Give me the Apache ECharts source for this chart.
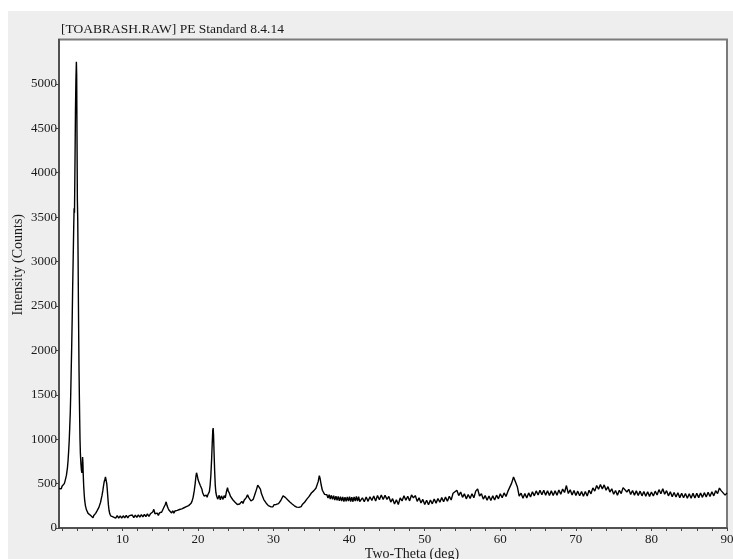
<!DOCTYPE html>
<html>
<head>
<meta charset="utf-8">
<script src="https://cdn.jsdelivr.net/npm/echarts@6/dist/echarts.min.js"></script>
<style>
  html, body { margin: 0; padding: 0; background: #fff; }
  #chart { width: 733px; height: 559px; }
</style>
</head>
<body>
<div id="chart"></div>
<script>
// scan: [two-theta, counts]
var lowAngle = [
  [1.60,445],[1.70,428],[1.80,458],[1.90,440],[2.00,470],[2.10,462],[2.20,490],[2.30,500],[2.40,528],[2.50,545],
  [2.58,592],[2.65,612],[2.72,680],[2.80,760],[2.88,870],[2.95,980],[3.02,1130],[3.10,1320],[3.15,1500],[3.22,1800],
  [3.28,2040],[3.35,2380],[3.41,2720],[3.48,3050],[3.55,3400],[3.60,3600],[3.65,3550],[3.72,4150],[3.78,4700],[3.84,5050],
  [3.90,5250],[3.94,5100],[3.98,4450],[4.03,3700],[4.08,3470],[4.13,3000],[4.17,2530],[4.21,2150],[4.25,1780],[4.30,1450],
  [4.34,1210],[4.38,1000],[4.43,840],[4.50,720],[4.57,650],[4.63,620],[4.68,700],[4.72,800],[4.76,740],[4.80,620],
  [4.87,470],[4.95,360],[5.00,310],[5.10,250],[5.23,205],[5.35,190],[5.45,165],[5.57,165],[5.70,145],[5.80,140],
  [5.90,120],[6.00,136],[6.10,114],[6.20,140],[6.33,136],[6.45,165],[6.55,172],[6.65,196],[6.77,202],[6.88,232],
  [6.99,240],[7.10,290],[7.20,330],[7.30,370],[7.40,420],[7.50,480],[7.58,520],[7.68,550],[7.75,575],[7.80,582],
  [7.86,560],[7.92,500],[7.98,440],[8.05,360],[8.14,260],[8.22,200],[8.32,160],[8.45,136],[8.60,152],[8.75,126]
];

var midAngle = [
  [8.90,138],[9.10,112],[9.30,140],[9.50,112],[9.70,136],[9.90,110],[10.10,138],[10.30,114],[10.50,142],[10.70,114],
  [10.90,140],[11.10,118],[11.30,146],[11.50,118],[11.70,145],[11.90,120],[12.10,148],[12.30,122],[12.50,150],[12.70,125],
  [12.90,153],[13.10,128],[13.30,158],[13.50,132],[13.70,160],[13.90,155],[14.00,180],[14.15,210],[14.30,160],[14.45,150],
  [14.60,168],[14.75,142],[14.90,170],[15.05,152],[15.20,180],[15.35,190],[15.50,236],[15.65,262],[15.78,295],[15.90,252],
  [16.05,220],[16.20,196],[16.35,194],[16.50,170],[16.65,194],[16.80,168],[16.95,192],[17.10,172],[17.25,198],[17.40,180],
  [17.55,208],[17.70,188],[17.85,216],[18.00,198],[18.15,228],[18.30,208],[18.45,240],[18.60,220],[18.75,252],[18.90,245],
  [19.05,275],[19.20,300],[19.35,345],[19.50,420],[19.62,500],[19.72,580],[19.80,622],[19.90,590],[20.00,545],[20.10,522],
  [20.20,500],[20.30,478],[20.40,488],[20.50,440],[20.60,400],[20.70,378],[20.80,360],[20.90,372],[21.00,344],[21.10,370],
  [21.20,346],[21.30,374],[21.40,378],[21.50,410],[21.60,480],[21.70,600],[21.80,780],[21.88,960],[21.95,1100],[22.00,1125],
  [22.05,1050],[22.12,850],[22.20,640],[22.28,480],[22.36,400],[22.45,362]
];

var highAngle = [
  [22.60,325],[22.80,368],[22.95,318],[23.10,362],[23.30,322],[23.45,365],[23.60,338],[23.75,405],[23.90,455],[24.00,415],
  [24.15,392],[24.30,355],[24.45,358],[24.60,318],[24.75,330],[24.90,290],[25.05,305],[25.20,265],[25.35,282],[25.50,270],
  [25.65,262],[25.80,300],[25.95,276],[26.10,312],[26.25,300],[26.40,345],[26.55,375],[26.70,345],[26.85,340],[27.00,304],
  [27.15,318],[27.30,322],[27.45,360],[27.60,378],[27.75,438],[27.90,482],[28.00,495],[28.10,468],[28.25,438],[28.40,385],
  [28.55,366],[28.70,320],[28.85,322],[29.00,282],[29.15,292],[29.30,252],[29.45,262],[29.60,240],[29.75,256],[29.90,238],
  [30.05,262],[30.20,240],[30.35,265],[30.50,248],[30.65,275],[30.80,270],[30.95,310],[31.10,325],[31.25,362],[31.40,372],
  [31.55,345],[31.70,350],[31.85,318],[32.00,326],[32.15,292],[32.30,300],[32.45,270],[32.60,280],[32.75,250],[32.90,262],
  [33.05,235],[33.20,250],[33.35,232],[33.50,248],[33.65,240],[33.80,265],[33.95,260],[34.10,290],[34.25,288],[34.40,325],
  [34.55,330],[34.70,356],[34.85,352],[35.00,394],[35.15,392],[35.30,418],[35.45,412],[35.60,448],[35.75,470],[35.90,522],
  [36.05,590],[36.15,558],[36.30,484],[36.45,425],[36.60,412],[36.75,378],[36.90,380],
  [37.05,375],[37.20,338],[37.35,374],[37.50,326],[37.65,368],[37.80,322],[37.95,365],[38.10,314],[38.25,358],[38.40,312],
  [38.55,356],[38.70,306],[38.85,352],[39.00,304],[39.15,350],[39.30,298],[39.45,346],[39.60,300],[39.75,350],[39.90,302],
  [40.05,352],[40.20,298],[40.35,348],[40.50,296],[40.65,350],[40.80,302],[40.95,356],[41.10,304],[41.25,352],[41.40,298],
  [41.50,290],[41.75,340],[42.00,295],[42.25,348],[42.50,300],[42.75,352],[43.00,310],[43.25,360],[43.50,305],[43.75,365],
  [44.00,318],[44.25,372],[44.50,320],[44.75,368],[45.00,322],[45.25,355],[45.50,292],[45.75,330],[46.00,270],[46.25,318],
  [46.50,265],[46.75,338],[47.00,305],[47.25,362],[47.50,312],[47.75,358],[48.00,305],[48.25,372],[48.50,340],[48.75,365],
  [49.00,300],[49.25,340],[49.50,282],[49.75,322],[50.00,265],[50.25,312],[50.50,262],[50.75,315],[51.00,272],[51.25,326],
  [51.50,280],[51.75,332],[52.00,290],[52.25,342],[52.50,295],[52.75,348],[53.00,302],[53.25,358],[53.50,315],[53.75,392],
  [54.00,388],[54.25,425],[54.50,365],[54.75,405],[55.00,345],[55.25,385],[55.50,328],[55.75,378],[56.00,332],[56.25,385],
  [56.50,340],[56.75,415],[57.00,440],[57.25,360],[57.50,385],[57.75,325],[58.00,365],[58.25,312],[58.50,360],[58.75,310],
  [59.00,362],[59.25,315],[59.50,370],[59.75,328],[60.00,385],[60.25,340],[60.50,395],[60.75,356],[61.00,412],[61.25,415],
  [61.50,505],[61.75,575],[62.00,520],[62.25,465],[62.50,360],[62.75,392],[63.00,335],[63.25,388],[63.50,338],[63.75,395],
  [64.00,350],[64.25,408],[64.50,362],[64.75,418],[65.00,372],[65.25,425],[65.50,375],[65.75,425],[66.00,370],[66.25,420],
  [66.50,366],[66.75,418],[67.00,365],[67.25,418],[67.50,370],[67.75,428],[68.00,380],[68.25,438],[68.50,400],[68.75,478],
  [69.00,388],[69.25,430],[69.50,372],[69.75,422],[70.00,366],[70.25,415],[70.50,362],[70.75,412],[71.00,358],[71.25,410],
  [71.50,360],[71.75,425],[72.00,385],[72.25,452],[72.50,415],[72.75,478],[73.00,436],[73.25,490],[73.50,440],[73.75,485],
  [74.00,425],[74.25,465],[74.50,405],[74.75,442],[75.00,380],[75.25,422],[75.50,368],[75.75,425],[76.00,388],[76.25,455],
  [76.50,470],[76.75,405],[77.00,435],[77.25,378],[77.50,422],[77.75,370],[78.00,418],[78.25,366],[78.50,415],[78.75,362],
  [79.00,410],[79.25,358],[79.50,408],[79.75,356],[80.00,405],[80.25,360],[80.50,415],[80.75,372],[81.00,432],[81.25,385],
  [81.50,442],[81.75,380],[82.00,420],[82.25,362],[82.50,408],[82.75,352],[83.00,400],[83.25,348],[83.50,396],[83.75,342],
  [84.00,392],[84.25,340],[84.50,388],[84.75,336],[85.00,386],[85.25,336],[85.50,390],[85.75,338],[86.00,392],[86.25,342],
  [86.50,395],[86.75,345],[87.00,398],[87.25,350],[87.50,402],[87.75,355],[88.00,408],[88.25,362],[88.50,420],[88.75,388],
  [89.00,450],[89.25,418],[89.50,432],[89.75,370],[90.00,395]
];

var xTickValues = [2,4,6,8,10,12,14,16,18,20,22,24,26,28,30,32,34,36,38,40,42,44,46,48,50,
  52,54,56,58,60,62,64,66,68,70,72,74,76,78,80,82,84,86,88,90];
var xLabelValues = [10,20,30,40,50,60,70,80,90];
var yLabelValues = [0,500,1000,1500,2000,2500,3000,3500,4000,4500,5000];

var titleText = '[TOABRASH.RAW] PE Standard 8.4.14';
var xName = 'Two-Theta (deg)';
var yName = 'Intensity (Counts)';

var serif = '"Liberation Serif", "DejaVu Serif", serif';
var textColor = '#1a1a1a';

var myChart = echarts.init(document.getElementById('chart'), null, { renderer: 'canvas' });

var option = {
  animation: false,
  backgroundColor: '#ffffff',
  graphic: [
    {
      type: 'rect',
      z: -10,
      silent: true,
      shape: { x: 8, y: 11, width: 725, height: 548 },
      style: { fill: '#eeeeee' }
    }
  ],
  title: {
    text: titleText,
    left: 61,
    top: 22,
    padding: 0,
    textStyle: { fontFamily: serif, fontSize: 13.5, fontWeight: 'normal', color: textColor }
  },
  grid: {
    left: 59,
    right: 6,
    top: 39.5,
    bottom: 31,
    outerBoundsMode: 'none',
    containLabel: false,
    show: true,
    backgroundColor: '#ffffff',
    borderColor: '#7a7a7a',
    borderWidth: 2
  },
  xAxis: {
    type: 'value',
    min: 1.6,
    max: 90,
    name: xName,
    nameLocation: 'middle',
    nameGap: 19,
    nameMoveOverlap: false,
    nameTextStyle: { fontFamily: serif, fontSize: 14, color: textColor, padding: [0, 0, 0, 38] },
    axisLine: { lineStyle: { color: '#444', width: 1.5 } },
    axisTick: { show: true, length: 3, customValues: xTickValues, lineStyle: { color: '#444' } },
    axisLabel: {
      customValues: xLabelValues,
      margin: 5,
      fontFamily: serif,
      fontSize: 13,
      color: textColor,
      formatter: function (v) { return String(v); }
    },
    splitLine: { show: false }
  },
  yAxis: {
    type: 'value',
    min: 0,
    max: 5500,
    name: yName,
    nameLocation: 'middle',
    nameRotate: 90,
    nameGap: 33.5,
    nameMoveOverlap: false,
    nameTextStyle: { fontFamily: serif, fontSize: 14, color: textColor, padding: [0, 0, 0, 38] },
    axisLine: { show: true, lineStyle: { color: '#444', width: 1.5 } },
    axisTick: { show: true, length: 3, customValues: yLabelValues, lineStyle: { color: '#444' } },
    axisLabel: {
      customValues: yLabelValues,
      margin: 2,
      fontFamily: serif,
      fontSize: 13,
      color: textColor,
      formatter: function (v) { return String(v); }
    },
    splitLine: { show: false }
  },
  series: [
    {
      type: 'line',
      data: lowAngle.concat(midAngle, highAngle),
      showSymbol: false,
      sampling: null,
      lineStyle: { color: '#000', width: 1.4 },
      clip: true
    }
  ]
};

myChart.setOption(option);
</script>
</body>
</html>
